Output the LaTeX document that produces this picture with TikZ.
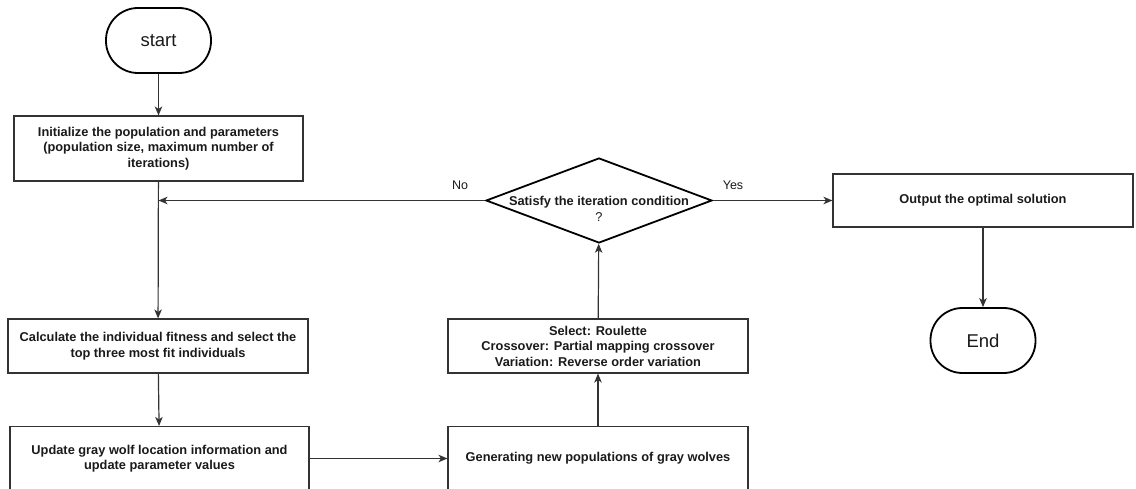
\documentclass[tikz,border=0pt]{standalone}
\usepackage{fontspec}
\setmainfont{Liberation Sans}
\usetikzlibrary{arrows.meta,shapes.geometric}
\definecolor{boxline}{HTML}{333333}
\definecolor{txt}{HTML}{1A1A1A}
\tikzset{
  procbox/.style={draw=boxline, line width=1.1pt, rectangle, inner sep=2pt, align=center,
    text=txt, font=\fontsize{12.8}{15.5}\selectfont\bfseries},
  termbox/.style={draw=black, line width=1.8pt, rectangle, rounded corners=32pt,
    minimum width=105pt, minimum height=65pt, text=txt, font=\fontsize{18.5}{22}\selectfont},
  decbox/.style={draw=black, line width=1.8pt, diamond, inner sep=0pt,
    minimum width=226pt, minimum height=85pt},
  arr/.style={draw=boxline, line width=1.2pt, -{Stealth[length=9pt,width=7.5pt,inset=2.5pt]}},
  lbl/.style={text=txt, font=\fontsize{12.5}{15}\selectfont}
}
\begin{document}
\begin{tikzpicture}[x=1pt,y=-1pt]
\useasboundingbox (0,0) rectangle (1136,489);
\node[termbox] (start) at (158.5,40.5) {start};
\node[procbox, minimum width=289pt, minimum height=65pt] (init) at (158.5,148.5)
  {Initialize the population and parameters\\(population size, maximum number of\\iterations)};
\node[procbox, minimum width=300pt, minimum height=54pt] (calc) at (158,346)
  {Calculate the individual fitness and select the\\top three most fit individuals};
\node[procbox, minimum width=299pt, minimum height=64pt] (update) at (159.5,458.5)
  {Update gray wolf location information and\\update parameter values};
\node[procbox, minimum width=300pt, minimum height=64pt] (gen) at (598,458.5)
  {Generating new populations of gray wolves};
\node[procbox, minimum width=300pt, minimum height=54pt] (sel) at (598,346)
  {Select: Roulette\\Crossover: Partial mapping crossover\\Variation: Reverse order variation};
\node[decbox] (dia) at (599,200.5) {};
\node[lbl, align=center, font=\fontsize{12.8}{16}\selectfont] (diatxt) at (599,209)
  {\textbf{Satisfy the iteration condition}\\?};
\node[procbox, minimum width=300pt, minimum height=53pt] (out) at (983,200.5)
  {Output the optimal solution};
\node[termbox] (end) at (983,340.5) {End};
\coordinate (join) at (init.south |- dia.west);

\draw[arr] (start) -- (init);
\draw[arr] (init) -- (calc);
\draw[arr] (calc) -- (update);
\draw[arr] (update) -- (gen);
\draw[arr] (gen) -- (sel);
\draw[arr] (sel) -- (dia);
\draw[arr] (dia.west) -- (join);
\draw[arr] (dia.east) -- (out.west);
\draw[arr] (out) -- (end);

\node[lbl] (no) at (460,185.5) {No};
\node[lbl] (yes) at (733,185.5) {Yes};
\end{tikzpicture}
\end{document}
